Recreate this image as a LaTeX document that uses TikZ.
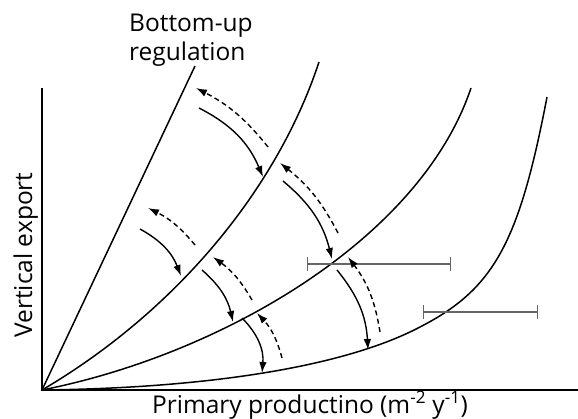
\documentclass[tikz,border=0pt]{standalone}
\usepackage{fontspec}
\setmainfont{Open Sans}
\usepackage{tikz}
\usetikzlibrary{arrows.meta}

\begin{document}
\begin{tikzpicture}[
    x=1pt, y=-1pt,
    axis/.style={line width=1.8pt},
    curve/.style={line width=1.5pt},
    solidarr/.style={line width=1.4pt, -{Latex[length=11pt, width=7.5pt]}},
    dasharr/.style={line width=1.4pt, dash pattern=on 5pt off 3.5pt, -{Latex[length=11pt, width=7.5pt]}},
    errbar/.style={line width=1.2pt, black!60, {Bar[width=14pt]}-{Bar[width=14pt]}},
    lbl/.style={font=\fontsize{24.5}{29}\selectfont, inner sep=0pt},
]
\useasboundingbox (0,0) rectangle (578,419);

% axes
\coordinate (o) at (42,390);
\draw[axis] (42,88) -- (o) -- (578,390);

% regulation curves, all from the origin
\draw[curve] (o) -- (195,66);
\draw[curve] (o) .. controls (170,315) and (275,195) .. (319,62);
\draw[curve] (o) .. controls (220,355) and (420,240) .. (471,88);
\draw[curve] (o) .. controls (220,388) and (350,364) .. (420,327)
    .. controls (494,289) and (519,243) .. (547,97);

% error bars
\draw[errbar] (307,264) -- (451,264);
\draw[errbar] (423,312) -- (538,312);

% shift arrows (solid down, dashed back up)
\draw[solidarr] (199,108) to[bend left=20] (263,177);
\draw[dasharr]  (268,147) to[bend right=12] (196,88);
\draw[solidarr] (283,181) to[bend left=18] (332,259);
\draw[dasharr]  (338,233) to[bend right=12] (280,163);
\draw[solidarr] (337,270) to[bend left=18] (368,350);
\draw[dasharr]  (380,332) to[bend right=14] (348,257);

\draw[solidarr] (140,229) to[bend left=20] (181,276);
\draw[dasharr]  (195,245) to[bend right=12] (148,208);
\draw[solidarr] (202,270) to[bend left=18] (233,322);
\draw[dasharr]  (252,300) to[bend right=12] (213,257);
\draw[solidarr] (242,318) to[bend left=25] (262,373);
\draw[dasharr]  (282,358) to[bend right=14] (257,313);

% labels
\node[lbl, align=left, anchor=north west] (title) at (129,14) {Bottom-up\\regulation};
\node[lbl, rotate=90, anchor=base] (ylab) at (32,255) {Vertical export};
\node[lbl, anchor=base] (xlab) at (310,413) {Primary productino (m\textsuperscript{-2} y\textsuperscript{-1})};

\end{tikzpicture}
\end{document}
